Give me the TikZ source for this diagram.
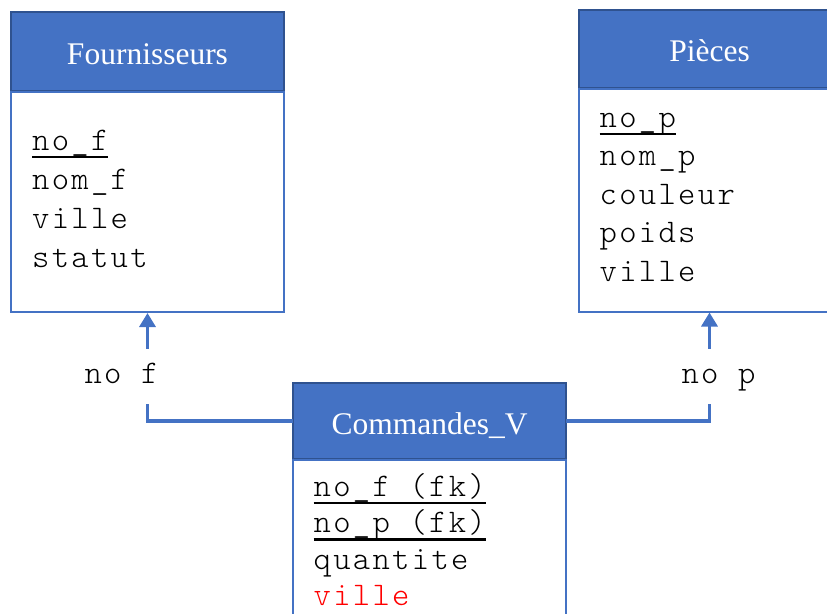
\documentclass[tikz,border=0pt]{standalone}
\usepackage{fontspec}
\setmainfont{Liberation Serif}
\newfontfamily\machine{lmmonolt10-regular}[Extension=.otf,LetterSpace=7]
\usepackage{xcolor}
\usepackage{tikz}
\usetikzlibrary{positioning}
\usetikzlibrary{arrows.meta}

\definecolor{entete}{HTML}{4472C4}
\definecolor{bordure}{HTML}{2F528F}

\newlength\clelen
\newcommand{\cle}[1]{\settowidth{\clelen}{#1}\rlap{\rule[-8pt]{\clelen}{2.5pt}}#1}
\newcommand{\haut}{\rule{0pt}{26pt}}

\tikzset{
    titre/.style={rectangle,fill=entete,draw=bordure,line width=2pt,outer sep=0pt,
        text=white,inner sep=0pt,text height=26pt,text depth=0pt,
        font=\fontsize{31.5}{38}\selectfont},
    cadre/.style={rectangle,draw=entete,fill=white,line width=2pt,inner sep=0pt},
    champs/.style={anchor=north west,inner sep=0pt,align=left,
        font=\machine\fontsize{33}{#1}\selectfont},
    lien/.style={draw=entete,line width=3.3pt,-{Triangle[width=16pt,length=14pt]}},
    etiquette/.style={fill=white,inner xsep=2pt,inner ysep=14pt,text height=20pt,
        text depth=7pt,font=\machine\fontsize{33}{39}\selectfont}
}

\begin{document}
\begin{tikzpicture}[x=1pt,y=-1pt]
            \useasboundingbox (0,0) rectangle (827,613);

            % Fournisseurs
            \node[titre,minimum width=273pt,minimum height=79pt,anchor=north west] (four) at (11,12) {Fournisseurs};
            \node[cadre,minimum width=273pt,minimum height=220pt,below=0pt of four] (fourc) {};
            \node[champs=39] (fourt) at ([xshift=22pt,yshift=-33pt]fourc.north west)
                {\haut\cle{no\_f}\\nom\_f\\ville\\statut};

            % Pieces
            \node[titre,minimum width=262pt,minimum height=78pt,anchor=north west] (piec) at (578.5,9.5) {Pièces};
            \node[cadre,minimum width=262pt,minimum height=223pt,below=0pt of piec] (piecc) {};
            \node[champs=38.5] (piect) at ([xshift=22pt,yshift=-13.7pt]piecc.north west)
                {\haut\cle{no\_p}\\nom\_p\\couleur\\poids\\ville};

            % Commandes_V
            \node[titre,minimum width=273pt,minimum height=76pt,anchor=north west] (cv) at (293,383) {Commandes\_V};
            \node[cadre,minimum width=273pt,minimum height=200pt,below=0pt of cv] (cvc) {};
            \node[champs=36.4] (cvt) at ([xshift=21.5pt,yshift=-11pt]cvc.north west)
                {\haut\cle{no\_f (fk)}\\\cle{no\_p (fk)}\\quantite\\\textcolor{red}{ville}};

            % liens
            \draw[lien] (cv.west) -| (fourc.south);
            \draw[lien] (cv.east) -| (piecc.south);
            \node[etiquette] (lf) at (121.5,376.5) {no f};
            \node[etiquette] (lp) at (718.5,376.5) {no p};
        \end{tikzpicture}
\end{document}
